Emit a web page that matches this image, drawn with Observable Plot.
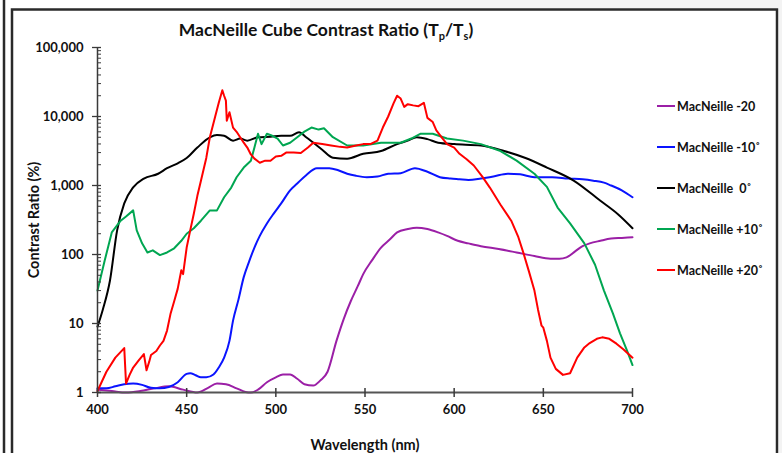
<!DOCTYPE html>
<html>
<head>
<meta charset="utf-8">
<script src="https://cdn.jsdelivr.net/npm/d3@7"></script>
<script src="https://cdn.jsdelivr.net/npm/@observablehq/plot@0.6"></script>
<style>
  html, body { margin: 0; padding: 0; background: #fff; }
  #chart svg { display: block; font-family: Lato, "Open Sans", sans-serif; font-weight: bold; }
</style>
</head>
<body>
<div id="chart"></div>
<script>
// ---- Data ----
const seriesNames = ["MacNeille -20", "MacNeille -10˚", "MacNeille  0˚", "MacNeille +10˚", "MacNeille +20˚"];
const seriesColors = ["#9b1fa6", "#0a14ff", "#000000", "#00a651", "#ff0000"];
const seriesCurves = ["monotone-x", "monotone-x", "monotone-x", "linear", "linear"];

const xTicks = [400, 450, 500, 550, 600, 650, 700];
const yTicks = [1, 10, 100, 1000, 10000, 100000];

// MacNeille -20
const wlM20 = [400,408,416,424,432,440,448,456,462,467,472,478,483,486,490,495,500,504,508,512,516,521,525,529,534,538,542,546,549,554,559,564,568,574,579,585,591,596,602,608,615,625,635,645,654,659,663,668,672,676,682,688,694,700];
const crM20 = [1.1,1.05,1.0,1.05,1.15,1.23,1.1,1.0,1.17,1.35,1.32,1.15,1.02,1.0,1.1,1.41,1.66,1.82,1.82,1.58,1.32,1.26,1.5,2.0,5.6,11.5,21,35,52,83,126,166,209,234,245,234,209,186,158,145,132,120,107,95,87,87,91,112,132,145,158,170,174,178];

// MacNeille -10
const wlM10 = [400,405,410,415,420,425,430,435,440,445,450,452,455,458,461,465,468,471,474,476,479,482,485,488,491,495,499,503,508,512,517,523,530,535,540,545,551,557,563,570,578,585,592,598,603,608,615,622,630,637,645,655,664,672,678,684,688,694,700];
const crM10 = [1.15,1.15,1.23,1.32,1.35,1.29,1.17,1.15,1.2,1.41,1.86,1.9,1.78,1.66,1.66,1.82,2.3,3.2,5.6,11,22,47,79,126,186,282,398,550,851,1070,1410,1780,1780,1660,1480,1380,1320,1350,1480,1510,1780,1580,1320,1260,1230,1200,1260,1350,1480,1450,1320,1320,1260,1230,1175,1100,1000,851,676];

// MacNeille 0
const wl0 = [400,403,407,411,415,420,426,434,439,445,450,456,463,467,471,476,480,484,490,497,503,508,513,517,521,526,532,540,549,559,568,574,579,585,591,600,615,628,640,652,667,682,692,700];
const cr0 = [9,16,42,224,550,940,1260,1480,1780,2100,2500,3550,5000,5400,5250,4470,4800,4470,5000,5100,5250,5250,5900,5000,4170,3300,2530,2450,2880,3160,3980,4470,5000,4700,4170,3980,3800,3160,2500,1820,1180,600,380,240];

// MacNeille +10
const wlP10 = [400,404,408,413,416,420,422,425,428,431,435,439,443,447,450,454,458,463,467,471,475,478,482,486,488,490,492,495,498,501,504,508,512,516,520,524,527,532,540,549,559,570,576,581,588,596,605,615,626,635,645,652,658,665,673,679,684,689,693,697,700];
const crP10 = [30,81,209,309,355,436,224,145,107,115,98,107,123,158,200,240,309,436,436,676,933,1318,1820,2290,3550,5620,3980,5620,5250,4790,3800,4170,5010,6030,6920,6460,6760,5010,3800,3800,4170,4170,4790,5620,5620,4790,4470,3980,3160,2290,1480,955,479,282,145,71,30,14,7.2,4,2.5];

// MacNeille +20
const wlP20 = [400,405,410,415,416,418,420,423,426,427.5,429,430,433,435,437,439,441,443,445,447,448,450,452,454,456,458,461,463,466,468,470,471,472,472.5,474,476,478,480,482,484,486,488,491,494,497,500,503,506,510,514,518,521,526,531,536,540,545,549,553,557,560,563,566,568,570,572,574,577,580,583,585,588,590,593,596,600,603,607,611,616,620,626,632,636,639,642,645,647,649,650,652,654,657,661,665,669,673,676,680,683,687,691,695,700];
const crP20 = [1.05,2.0,3.2,4.4,1.35,1.8,2.3,2.9,3.6,2.1,2.8,3.5,4.0,4.8,5.6,7.9,14,21,32,59,52,126,224,389,708,1175,2510,5010,10000,15800,24000,20000,17000,8700,11500,6900,6000,5000,4170,3550,2820,2450,2140,2290,2290,2630,2690,3020,3020,2950,3550,4170,3980,3800,3630,3550,3800,3980,3980,4470,6920,10000,15500,20000,18200,13800,15100,14500,14100,15800,9550,8300,6300,5000,3980,3550,2880,2400,1950,1320,933,525,309,178,102,56,30,16,9.3,8.7,5.6,3.2,2.2,1.8,1.9,3.2,4.5,5.2,6.0,6.3,6.0,5.1,4.2,3.2];

const wlSets = [wlM20, wlM10, wl0, wlP10, wlP20];
const crSets = [crM20, crM10, cr0, crP10, crP20];

// Build a long table for Plot
const table = [];
wlSets.forEach((wl, s) => wl.forEach((w, i) => table.push({series: seriesNames[s], wl: w, cr: crSets[s][i]})));

const yMinor = [];
for (let d = 1; d < 100000; d *= 10) for (let k = 2; k <= 9; k++) yMinor.push(d * k);

const axisColor = "#3a3a3a";

const chart = Plot.plot({
  width: 782,
  height: 453,
  marginLeft: 97,
  marginRight: 150,
  marginTop: 47,
  marginBottom: 61,
  style: {fontFamily: "Lato, 'Open Sans', sans-serif", fontWeight: "bold", fontSize: "13px", color: "#111"},
  x: {domain: [400, 700]},
  y: {type: "log", domain: [1, 100000]},
  marks: [
    ...seriesNames.map((name, s) =>
      Plot.line(table.filter(d => d.series === name), {x: "wl", y: "cr", stroke: seriesColors[s], strokeWidth: 2, curve: seriesCurves[s]})
    ),
    // axis lines
    Plot.ruleX([400], {stroke: axisColor, strokeWidth: 1.5}),
    Plot.ruleY([1], {stroke: "#555", strokeWidth: 2}),
    // y ticks
    Plot.ruleY(yTicks, {x1: 400, x2: 400, insetLeft: -5, insetRight: -4, stroke: axisColor, strokeWidth: 1.3}),
    Plot.ruleY(yMinor, {x1: 400, x2: 400, insetRight: -4, stroke: axisColor, strokeWidth: 1}),
    // x ticks
    Plot.ruleX(xTicks, {y1: 1, y2: 1, insetTop: -4, insetBottom: -5, stroke: axisColor, strokeWidth: 1.5}),
    Plot.axisX({ticks: xTicks, tickSize: 0, tickPadding: 12, tickFormat: d => String(d), fontSize: 13,
      label: "Wavelength (nm)", labelAnchor: "center", labelArrow: false, labelOffset: 57}),
    Plot.axisY({ticks: yTicks, tickSize: 0, tickPadding: 14, tickFormat: d3.format(","), fontSize: 13,
      label: "Contrast Ratio (%)", labelAnchor: "center", labelArrow: false, labelOffset: 69})
  ]
});

document.getElementById("chart").appendChild(chart);

// Decorations: frame, title, legend
const svg = d3.select(chart);
svg.selectAll("g[aria-label='x-axis label'] text, g[aria-label='y-axis label'] text").attr("font-size", 14.5);

const deco = svg.append("g");
deco.append("rect").attr("x", 290).attr("y", 0).attr("width", 492).attr("height", 8).attr("fill", "#f3f3f3");
deco.append("rect").attr("x", 779).attr("y", 8).attr("width", 3).attr("height", 445).attr("fill", "#f3f3f3");
deco.append("line").attr("x1", 4).attr("x2", 4).attr("y1", 0).attr("y2", 453).attr("stroke", "#2a2a2a").attr("stroke-width", 2.5);
deco.append("rect").attr("x", 12).attr("y", 9.5).attr("width", 765).attr("height", 470)
  .attr("fill", "none").attr("stroke", "#2a2a2a").attr("stroke-width", 2.5);

const title = deco.append("text").attr("x", 326).attr("y", 36).attr("text-anchor", "middle")
  .attr("font-size", 17.5).attr("font-weight", "bold").attr("fill", "#111");
title.append("tspan").text("MacNeille Cube Contrast Ratio (T");
title.append("tspan").attr("font-size", 11).attr("dy", 4).text("p");
title.append("tspan").attr("dy", -4).text("/T");
title.append("tspan").attr("font-size", 11).attr("dy", 4).text("s");
title.append("tspan").attr("dy", -4).text(")");

const legendY = [106, 147, 188, 229, 270];
seriesNames.forEach((name, i) => {
  const g = deco.append("g").attr("transform", `translate(657,${legendY[i]})`);
  g.append("line").attr("x1", 0).attr("x2", 18).attr("y1", 0).attr("y2", 0)
    .attr("stroke", seriesColors[i]).attr("stroke-width", 2);
  g.append("text").attr("x", 20).attr("y", 4.5).attr("font-size", 12.5).attr("font-weight", "bold")
    .attr("text-anchor", "start").attr("fill", "#111").style("white-space", "pre").text(name);
});
</script>
</body>
</html>
